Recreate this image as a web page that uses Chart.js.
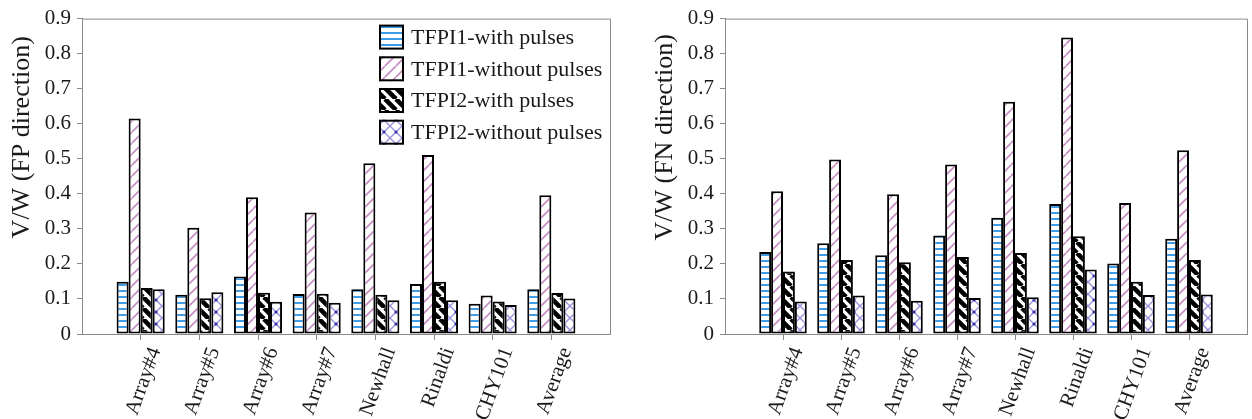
<!DOCTYPE html>
<html>
<head>
<meta charset="utf-8">
<script src="https://cdn.jsdelivr.net/npm/chart.js@4.4.1/dist/chart.umd.min.js"></script>
<style>
  html, body { margin: 0; padding: 0; background: #fff; }
  #wrap { position: relative; width: 1252px; height: 419px; overflow: hidden; }
  canvas { position: absolute; top: 0; }
  #fp { left: 0; }
  #fn { left: 626px; }
</style>
</head>
<body>
<div id="wrap">
  <canvas id="fp" width="626" height="419"></canvas>
  <canvas id="fn" width="626" height="419"></canvas>
</div>
<script>
// Ground-motion records (categories)
const sites = ['Array#4', 'Array#5', 'Array#6', 'Array#7', 'Newhall', 'Rinaldi', 'CHY101', 'Average'];
const seriesNames = ['TFPI1-with pulses', 'TFPI1-without pulses', 'TFPI2-with pulses', 'TFPI2-without pulses'];

// V/W, fault-parallel direction
const fpTfpi1With    = [0.149, 0.112, 0.164, 0.114, 0.128, 0.143, 0.086, 0.128];
const fpTfpi1Without = [0.615, 0.303, 0.390, 0.347, 0.487, 0.511, 0.110, 0.396];
const fpTfpi2With    = [0.131, 0.102, 0.118, 0.115, 0.112, 0.149, 0.093, 0.117];
const fpTfpi2Without = [0.128, 0.119, 0.092, 0.089, 0.096, 0.096, 0.083, 0.101];

// V/W, fault-normal direction
const fnTfpi1With    = [0.234, 0.259, 0.225, 0.281, 0.332, 0.371, 0.201, 0.272];
const fnTfpi1Without = [0.407, 0.498, 0.399, 0.484, 0.663, 0.846, 0.374, 0.524];
const fnTfpi2With    = [0.178, 0.211, 0.205, 0.220, 0.231, 0.279, 0.149, 0.211];
const fnTfpi2Without = [0.093, 0.110, 0.095, 0.103, 0.105, 0.184, 0.111, 0.113];

// Y axis range and step
const yMin = 0, yMax = 0.9, yStep = 0.1;

const FONT = "'Liberation Serif', 'Times New Roman', serif";
const AXIS_GRAY = '#8a8a8a';
const TEXT = '#1a1a1a';

// Hatch fills
function makeTile(w, h, draw) {
  const c = document.createElement('canvas');
  c.width = w; c.height = h;
  const g = c.getContext('2d');
  g.fillStyle = '#fff';
  g.fillRect(0, 0, w, h);
  draw(g, w, h);
  return g.createPattern(c, 'repeat');
}
function hatch(g, w, h, dir) {
  g.beginPath();
  for (let k = -1; k <= 1; k++) {
    if (dir === '/') { g.moveTo(k * w, h); g.lineTo(k * w + w, 0); }
    else { g.moveTo(k * w, 0); g.lineTo(k * w + w, h); }
  }
  g.stroke();
}
const fills = [
  makeTile(6, 6, (g, w) => { g.fillStyle = '#3f9de8'; g.fillRect(0, 2, w, 2); }),
  makeTile(11, 11, (g, w, h) => { g.strokeStyle = '#c58cc0'; g.lineWidth = 1.6; hatch(g, w, h, '/'); }),
  makeTile(11, 11, (g, w, h) => { g.strokeStyle = '#000'; g.lineWidth = 4.6; hatch(g, w, h, '\\'); }),
  makeTile(12, 12, (g, w, h) => {
    g.strokeStyle = '#9890da'; g.lineWidth = 1.3;
    hatch(g, w, h, '/'); hatch(g, w, h, '\\');
    g.fillStyle = '#3434a8';
    [[0, 0], [w, 0], [0, h], [w, h]].forEach(([x, y]) => { g.beginPath(); g.arc(x, y, 1.6, 0, Math.PI * 2); g.fill(); });
  })
];

// Gray frame on the top and right of the plot area
const framePlugin = {
  id: 'frame',
  beforeDatasetsDraw(chart) {
    const { ctx, chartArea: a } = chart;
    ctx.save();
    ctx.strokeStyle = AXIS_GRAY;
    ctx.lineWidth = 1;
    ctx.beginPath();
    ctx.moveTo(a.left, a.top + 0.5);
    ctx.lineTo(Math.round(a.right) + 0.5, a.top + 0.5);
    ctx.lineTo(Math.round(a.right) + 0.5, a.bottom);
    ctx.stroke();
    ctx.restore();
  }
};

// Rotated y-axis title
const sideTitlePlugin = {
  id: 'sideTitle',
  afterDraw(chart, args, opts) {
    if (!opts.text) return;
    const { ctx, chartArea: a } = chart;
    ctx.save();
    ctx.translate(a.left - opts.dx, (a.top + a.bottom) / 2 - opts.dy);
    ctx.rotate(-Math.PI / 2);
    ctx.font = `${opts.size}px ${FONT}`;
    ctx.fillStyle = TEXT;
    ctx.textAlign = 'center';
    ctx.textBaseline = 'middle';
    ctx.fillText(opts.text, 0, 0);
    ctx.restore();
  }
};

// Legend drawn inside the plot area with the hatch swatches
const hatchLegendPlugin = {
  id: 'hatchLegend',
  afterDraw(chart, args, opts) {
    if (!opts.display) return;
    const { ctx, chartArea: a } = chart;
    ctx.save();
    ctx.font = `${opts.size}px ${FONT}`;
    ctx.textBaseline = 'middle';
    ctx.textAlign = 'left';
    chart.data.datasets.forEach((ds, i) => {
      const bx = a.right - opts.fromRight;
      const by = a.top + opts.top + i * opts.pitch;
      ctx.fillStyle = ds.backgroundColor;
      ctx.fillRect(bx, by, opts.box, opts.box);
      ctx.strokeStyle = '#000';
      ctx.lineWidth = 2;
      ctx.strokeRect(bx + 1, by + 1, opts.box - 2, opts.box - 2);
      ctx.fillStyle = TEXT;
      ctx.fillText(ds.label, bx + opts.box + 7, by + opts.box / 2 + 1);
    });
    ctx.restore();
  }
};

function buildChart(id, series, title, showLegend, yWidth, padRight) {
  return new Chart(document.getElementById(id), {
    type: 'bar',
    data: {
      datasets: series.map((vals, i) => ({
        label: seriesNames[i],
        data: vals.map((v, j) => ({ x: j + 1, y: v })),
        backgroundColor: fills[i],
        borderColor: '#000',
        borderWidth: 2,
        borderSkipped: false,
        categoryPercentage: 0.82,
        barPercentage: 1.0
      }))
    },
    options: {
      responsive: false,
      animation: false,
      events: [],
      layout: { padding: { top: 17, right: padRight, bottom: 0, left: 0 } },
      scales: {
        x: {
          type: 'linear',
          offset: false,
          min: 0,
          max: sites.length + 1,
          afterBuildTicks: s => { s.ticks = sites.map((_, i) => ({ value: i + 1 })); },
          afterFit: s => { s.height = 85; },
          grid: { offset: false, drawOnChartArea: false, tickLength: 6, color: AXIS_GRAY },
          border: { display: true, color: AXIS_GRAY, width: 1 },
          ticks: {
            autoSkip: false,
            minRotation: 70,
            maxRotation: 70,
            labelOffset: 15,
            padding: 4,
            color: TEXT,
            font: { family: FONT, size: 21 },
            callback: v => sites[v - 1]
          }
        },
        y: {
          min: yMin,
          max: yMax,
          afterFit: s => { s.width = yWidth; },
          grid: { drawOnChartArea: false, tickLength: 5, color: AXIS_GRAY },
          border: { display: true, color: AXIS_GRAY, width: 1 },
          ticks: {
            stepSize: yStep,
            padding: 6,
            color: TEXT,
            font: { family: FONT, size: 21 }
          }
        }
      },
      plugins: {
        legend: { display: false },
        tooltip: { enabled: false },
        sideTitle: { text: title, dx: 60, dy: 39, size: 26 },
        hatchLegend: { display: showLegend, fromRight: 231, top: 6, pitch: 31.7, box: 25, size: 22 }
      }
    },
    plugins: [framePlugin, sideTitlePlugin, hatchLegendPlugin]
  });
}

buildChart('fp', [fpTfpi1With, fpTfpi1Without, fpTfpi2With, fpTfpi2Without], 'V/W (FP direction)', true, 82, 16);
buildChart('fn', [fnTfpi1With, fnTfpi1Without, fnTfpi2With, fnTfpi2Without], 'V/W (FN direction)', false, 99, 5);
</script>
</body>
</html>
